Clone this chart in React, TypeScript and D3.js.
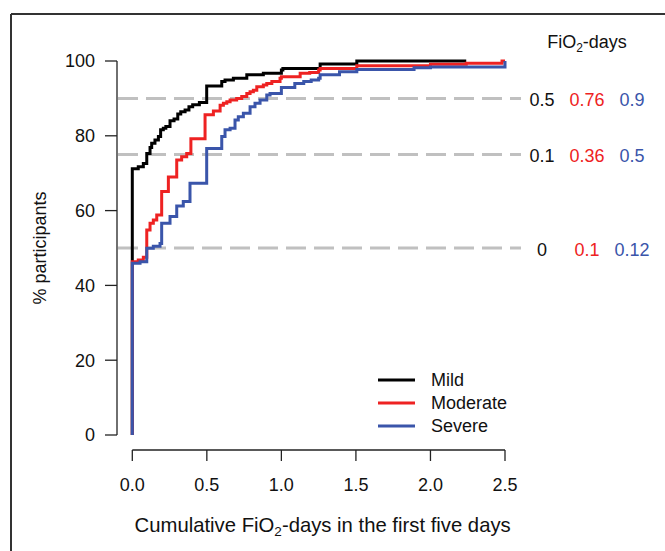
import React from "react";
import * as d3 from "d3";

const mildX = [0, 0, 0.04, 0.074, 0.097, 0.119, 0.13, 0.152, 0.175, 0.19, 0.208, 0.225, 0.253, 0.28, 0.305, 0.325, 0.354, 0.38, 0.405, 0.45, 0.499, 0.6, 0.622, 0.678, 0.768, 0.879, 1.0, 1.01, 1.26, 1.506, 2.24];
const mildY = [0, 71.2, 71.7, 72.6, 75.3, 76.9, 78.0, 78.9, 79.8, 81.6, 82.0, 82.5, 84.0, 84.5, 85.8, 86.4, 86.9, 87.8, 88.3, 88.9, 93.3, 94.5, 94.9, 95.4, 96.3, 96.7, 97.6, 98.0, 99.2, 100, 100];

const moderateX = [0, 0, 0.04, 0.074, 0.097, 0.119, 0.141, 0.164, 0.197, 0.242, 0.298, 0.331, 0.365, 0.393, 0.488, 0.544, 0.589, 0.611, 0.634, 0.656, 0.7, 0.734, 0.768, 0.79, 0.812, 0.835, 0.879, 0.902, 0.936, 0.991, 1.0, 1.126, 1.19, 1.25, 1.26, 1.506, 2.0, 2.24, 2.48, 2.5];
const moderateY = [0, 46.3, 46.8, 47.5, 54.8, 56.6, 57.5, 58.8, 65.1, 69.0, 73.5, 74.4, 75.3, 79.2, 85.6, 86.6, 88.2, 88.7, 89.1, 89.6, 90.0, 90.5, 91.3, 91.8, 92.2, 93.1, 93.6, 94.0, 94.5, 95.4, 95.8, 96.7, 96.9, 97.6, 98.0, 98.7, 99.1, 99.4, 100, 100];

const severeX = [0, 0, 0.052, 0.097, 0.141, 0.186, 0.197, 0.253, 0.298, 0.342, 0.387, 0.499, 0.6, 0.622, 0.656, 0.689, 0.711, 0.745, 0.79, 0.823, 0.857, 0.902, 0.924, 1.0, 1.09, 1.15, 1.2, 1.25, 1.26, 1.39, 1.506, 1.89, 2.0, 2.5, 2.5];
const severeY = [0, 45.9, 46.3, 49.9, 50.5, 51.2, 56.6, 58.4, 61.2, 62.4, 67.3, 76.6, 79.8, 81.6, 82.0, 84.2, 85.1, 86.0, 87.8, 88.7, 89.6, 90.9, 91.3, 92.9, 94.0, 94.5, 94.9, 95.4, 96.3, 97.1, 97.7, 98.2, 98.4, 98.7, 100];

const seriesNames = ["Mild", "Moderate", "Severe"];
const seriesColors = ["#000000", "#ee2222", "#3a55aa"];

const xTicks = [0, 0.5, 1.0, 1.5, 2.0, 2.5];
const yTicks = [0, 20, 40, 60, 80, 100];
const refLevels = [90, 75, 50];
const mildQuant = ["0.5", "0.1", "0"];
const moderateQuant = ["0.76", "0.36", "0.1"];
const severeQuant = ["0.9", "0.5", "0.12"];

const FONT = "'Liberation Sans', Arial, Helvetica, sans-serif";

export default function App() {
  const x = d3.scaleLinear().domain([0, 2.5]).range([132.3, 505]);
  const y = d3.scaleLinear().domain([0, 100]).range([435, 61]);

  const line = d3
    .line<[number, number]>()
    .x((d) => x(d[0]))
    .y((d) => y(d[1]))
    .curve(d3.curveStepAfter);

  const series = [
    mildX.map((v, i) => [v, mildY[i]] as [number, number]),
    moderateX.map((v, i) => [v, moderateY[i]] as [number, number]),
    severeX.map((v, i) => [v, severeY[i]] as [number, number]),
  ];

  const colX = [542, 587, 632];
  const quants = [mildQuant, moderateQuant, severeQuant];

  return (
    <svg
      width={665}
      height={551}
      style={{ position: "absolute", left: 0, top: 0, background: "#fff" }}
      fontFamily={FONT}
    >
      <rect x={0} y={0} width={665} height={551} fill="#fff" />
      {/* outer frame */}
      <line x1={11} y1={14} x2={665} y2={14} stroke="#333" strokeWidth={2} />
      <line x1={11} y1={14} x2={11} y2={551} stroke="#333" strokeWidth={2} />

      {/* reference dashed lines */}
      {refLevels.map((r) => (
        <line
          key={r}
          x1={118}
          x2={521}
          y1={y(r)}
          y2={y(r)}
          stroke="#c0c0c0"
          strokeWidth={3}
          strokeDasharray="20 8"
        />
      ))}

      {/* curves */}
      {series.map((s, i) => (
        <path key={i} d={line(s) || ""} fill="none" stroke={seriesColors[i]} strokeWidth={3} />
      ))}

      {/* y axis */}
      <line x1={117} x2={117} y1={y(0)} y2={y(100)} stroke="#222" strokeWidth={1.3} />
      {yTicks.map((t) => (
        <g key={t}>
          <line x1={105} x2={117} y1={y(t)} y2={y(t)} stroke="#222" strokeWidth={1.3} />
          <text x={95} y={y(t)} dy="0.35em" textAnchor="end" fontSize={18} fill="#111">
            {t}
          </text>
        </g>
      ))}
      <text
        transform={`translate(40,${(y(0) + y(100)) / 2}) rotate(-90)`}
        textAnchor="middle"
        dy="0.35em"
        fontSize={18}
        fill="#111"
      >
        % participants
      </text>

      {/* x axis */}
      <line x1={x(0)} x2={x(2.5)} y1={450} y2={450} stroke="#222" strokeWidth={1.3} />
      {xTicks.map((t) => (
        <g key={t}>
          <line x1={x(t)} x2={x(t)} y1={450} y2={461} stroke="#222" strokeWidth={1.3} />
          <text x={x(t)} y={485} dy="0.35em" textAnchor="middle" fontSize={18} fill="#111">
            {t.toFixed(1)}
          </text>
        </g>
      ))}
      <text x={(x(0) + x(2.5)) / 2 + 4} y={532} textAnchor="middle" fontSize={20.3} fill="#111">
        Cumulative FiO
        <tspan fontSize={13.5} dy={4}>2</tspan>
        <tspan dy={-4}>-days in the first five days</tspan>
      </text>

      {/* legend */}
      {seriesNames.map((n, i) => (
        <g key={n}>
          <line
            x1={378}
            x2={415}
            y1={380 + i * 23}
            y2={380 + i * 23}
            stroke={seriesColors[i]}
            strokeWidth={3}
          />
          <text x={431} y={380 + i * 23} dy="0.35em" fontSize={18} fill="#111">
            {n}
          </text>
        </g>
      ))}

      {/* right annotation */}
      <text x={587} y={48} textAnchor="middle" fontSize={18} fill="#111">
        FiO
        <tspan fontSize={12} dy={4}>2</tspan>
        <tspan dy={-4}>-days</tspan>
      </text>
      {refLevels.map((r, ri) =>
        quants.map((q, qi) => (
          <text
            key={`${r}-${qi}`}
            x={colX[qi]}
            y={y(r) + 1.5}
            dy="0.35em"
            textAnchor="middle"
            fontSize={18}
            fill={qi === 0 ? "#111" : seriesColors[qi]}
          >
            {q[ri]}
          </text>
        ))
      )}
    </svg>
  );
}
